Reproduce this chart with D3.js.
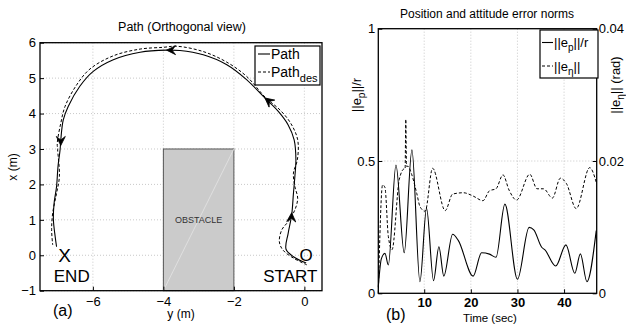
<!DOCTYPE html>
<html>
<head>
<meta charset="utf-8">
<script src="https://cdn.jsdelivr.net/npm/d3@7"></script>
<style>
  body { margin: 0; background: #fff; }
  svg { display: block; font-family: "Liberation Sans", Arial, sans-serif; }
</style>
</head>
<body>
<div id="chart"></div>
<script>
// ---- data: path plot (y, x in metres) ----
const pathActual = [
  [0.05,-0.22],[-0.31,-0.04],[-0.52,0.17],[-0.46,0.62],[-0.36,1.14],[-0.31,1.75],[-0.27,2.22],
  [-0.24,2.69],[-0.29,3.26],[-0.46,3.68],[-0.74,4.06],[-1.12,4.44],[-1.64,4.96],[-2.2,5.38],
  [-2.87,5.66],[-3.53,5.78],[-3.91,5.79],[-4.66,5.73],[-5.42,5.52],[-5.99,5.19],[-6.37,4.77],
  [-6.7,4.2],[-6.84,3.82],[-6.91,3.26],[-6.93,2.98],[-6.99,2.5],[-7.03,1.94],[-7.1,1.47],
  [-7.12,1.0],[-7.07,0.53],[-7.03,0.24]
];
const pathDesired = [
  [0.07,-0.27],[-0.31,-0.08],[-0.61,0.15],[-0.71,0.38],[-0.64,0.72],[-0.46,0.95],[-0.27,1.28],
  [-0.19,1.61],[-0.27,1.94],[-0.31,2.32],[-0.2,2.69],[-0.19,3.26],[-0.39,3.73],[-0.69,4.1],
  [-1.1,4.45],[-1.64,5.05],[-2.2,5.45],[-2.87,5.75],[-3.62,5.9],[-4.0,5.87],[-4.66,5.82],
  [-5.42,5.63],[-6.08,5.26],[-6.46,4.81],[-6.79,4.2],[-6.91,3.73],[-7.01,3.17],[-7.0,2.98],
  [-6.95,2.22],[-7.03,1.75],[-7.14,1.19],[-7.17,0.72],[-7.14,0.29]
];
// arrow heads: position and direction (dy, dx)
const arrows = [
  [-0.36, 1.2, 0.05, 1], [-1.12, 4.44, -1, 0.8], [-3.91, 5.79, -1, 0], [-6.91, 3.1, 0, -1]
];
const obstacle = { y0: -4, y1: -2, x0: -1, x1: 3 };
const pathYTicks = [-6, -4, -2, 0];
const pathXTicks = [-1, 0, 1, 2, 3, 4, 5, 6];

// ---- data: error norms ----
const epNorm = [
  [0.15,0.025],[0.8,0.13],[1.58,0.151],[2.3,0.107],[3.94,0.485],[5.71,0.153],[7.36,0.542],
  [9.08,0.044],[10.5,0.321],[12.0,0.048],[13.15,0.176],[14.2,0.065],[16.1,0.223],[17.3,0.2],
  [20.5,0.065],[22.3,0.153],[24,0.148],[25.4,0.136],[27.3,0.337],[30.0,0.053],[32.5,0.249],
  [33.5,0.24],[35.2,0.174],[35.9,0.164],[38.2,0.103],[40.4,0.183],[42.3,0.076],[43.5,0.149],
  [44.9,0.044],[46.9,0.237]
];
const etaNorm = [
  [0.15,0],[1.07,0.0164],[1.58,0.016],[2.3,0.0086],[3.1,0.0066],[4.65,0.0172],[5.7,0.0188],
  [5.9,0.0188],[6.05,0.0263],[6.2,0.0192],[6.5,0.0192],[7.3,0.018],[8.4,0.0151],[9.1,0.0131],
  [10.2,0.0124],[11.8,0.0189],[14.5,0.0125],[16.1,0.015],[18.4,0.0152],[20.5,0.0147],
  [22.6,0.014],[24.0,0.0155],[25.4,0.0158],[26.9,0.0179],[28.2,0.0156],[29.8,0.0141],
  [32.65,0.018],[34.2,0.0158],[35.6,0.0158],[37.5,0.0144],[39.2,0.0174],[40.5,0.0166],
  [42.6,0.0128],[45.5,0.019],[46.9,0.0168]
];
const timeTicks = [10, 20, 30, 40];
const epTicks = [0, 0.5, 1];
const etaTicks = [0, 0.02, 0.04];

const svg = d3.select("#chart").append("svg")
  .attr("width", 626).attr("height", 331);

const fmt = d => String(d).replace("-", "\u2212");

function grid(g, xs, ys, xsc, ysc, x0, x1, y0, y1) {
  g.selectAll(".gx").data(xs).enter().append("line")
    .attr("x1", d => xsc(d)).attr("x2", d => xsc(d)).attr("y1", y0).attr("y2", y1)
    .attr("stroke", "#bbb").attr("stroke-width", 0.8).attr("stroke-dasharray", "1,2");
  g.selectAll(".gy").data(ys).enter().append("line")
    .attr("y1", d => ysc(d)).attr("y2", d => ysc(d)).attr("x1", x0).attr("x2", x1)
    .attr("stroke", "#bbb").attr("stroke-width", 0.8).attr("stroke-dasharray", "1,2");
}

// ================= left plot =================
const L = { left: 40, right: 322, top: 42.7, bottom: 290.7 };
const ly = d3.scaleLinear().domain([-7.5, 0.5]).range([L.left, L.right]);
const lx = d3.scaleLinear().domain([-1, 6]).range([L.bottom, L.top]);
const gl = svg.append("g");

grid(gl, pathYTicks, pathXTicks, ly, lx, L.left, L.right, L.top, L.bottom);

// obstacle
gl.append("rect")
  .attr("x", ly(obstacle.y0)).attr("y", lx(obstacle.x1))
  .attr("width", ly(obstacle.y1) - ly(obstacle.y0))
  .attr("height", lx(obstacle.x0) - lx(obstacle.x1))
  .attr("fill", "#cbcbcb").attr("stroke", "#555").attr("stroke-width", 1);
gl.append("line")
  .attr("x1", ly(obstacle.y0)).attr("y1", lx(obstacle.x0))
  .attr("x2", ly(obstacle.y1)).attr("y2", lx(obstacle.x1))
  .attr("stroke", "#e4e4e4").attr("stroke-width", 0.8);
gl.append("text").attr("x", ly(-3)).attr("y", lx(1) + 3.5)
  .attr("text-anchor", "middle").attr("font-size", 9).attr("fill", "#333").text("OBSTACLE");

const pline = d3.line().x(d => ly(d[0])).y(d => lx(d[1])).curve(d3.curveCatmullRom);
gl.append("path").attr("d", pline(pathDesired)).attr("fill", "none")
  .attr("stroke", "#000").attr("stroke-width", 1).attr("stroke-dasharray", "3,2");
gl.append("path").attr("d", pline(pathActual)).attr("fill", "none")
  .attr("stroke", "#000").attr("stroke-width", 1.1);

// arrow heads
arrows.forEach(a => {
  const px = ly(a[0]), py = lx(a[1]);
  const ang = Math.atan2(lx(a[1] + a[3]) - py, ly(a[0] + a[2]) - px) * 180 / Math.PI;
  gl.append("path").attr("d", "M0,0 L-9,-4.5 L-5.5,0 L-9,4.5 Z")
    .attr("transform", `translate(${px},${py}) rotate(${ang})`)
    .attr("fill", "#000").attr("stroke", "#000").attr("stroke-width", 0.8);
});

// markers and labels
gl.append("text").attr("x", ly(-6.8)).attr("y", lx(0) + 7).attr("text-anchor", "middle")
  .attr("font-size", 19).text("X");
gl.append("text").attr("x", ly(0.05)).attr("y", lx(0) + 6).attr("text-anchor", "middle")
  .attr("font-size", 17).text("O");
gl.append("text").attr("x", ly(-6.6)).attr("y", 282).attr("text-anchor", "middle")
  .attr("font-size", 17).text("END");
gl.append("text").attr("x", ly(-0.4)).attr("y", 282).attr("text-anchor", "middle")
  .attr("font-size", 17).text("START");

// box and ticks
gl.append("rect").attr("x", L.left).attr("y", L.top).attr("width", L.right - L.left)
  .attr("height", L.bottom - L.top).attr("fill", "none").attr("stroke", "#000").attr("stroke-width", 1.3);
gl.append("g").attr("transform", `translate(0,${L.bottom})`)
  .call(d3.axisBottom(ly).tickValues(pathYTicks).tickSize(-4).tickFormat(fmt))
  .call(g => g.select(".domain").remove())
  .call(g => g.selectAll("text").attr("font-size", 13).attr("dy", "0.95em").attr("fill", "#000")
    .attr("font-family", "Liberation Sans, Arial, sans-serif"));
gl.append("g").attr("transform", `translate(${L.left},0)`)
  .call(d3.axisLeft(lx).tickValues(pathXTicks).tickSize(-4).tickFormat(fmt))
  .call(g => g.select(".domain").remove())
  .call(g => g.selectAll("text").attr("font-size", 13).attr("x", -4).attr("fill", "#000")
    .attr("font-family", "Liberation Sans, Arial, sans-serif"));

gl.append("text").attr("x", 182).attr("y", 31).attr("text-anchor", "middle")
  .attr("font-size", 12.5).text("Path (Orthogonal view)");
gl.append("text").attr("x", 181).attr("y", 318).attr("text-anchor", "middle")
  .attr("font-size", 12).text("y (m)");
gl.append("text").attr("transform", "translate(17,167) rotate(-90)").attr("text-anchor", "middle")
  .attr("font-size", 12).text("x (m)");
gl.append("text").attr("x", 53).attr("y", 316).attr("font-size", 16).text("(a)");

// legend
const lg = gl.append("g");
lg.append("rect").attr("x", 255).attr("y", 46).attr("width", 65).attr("height", 39)
  .attr("fill", "#fff").attr("stroke", "#000").attr("stroke-width", 1.2);
lg.append("line").attr("x1", 258).attr("x2", 270).attr("y1", 54).attr("y2", 54)
  .attr("stroke", "#000").attr("stroke-width", 1.1);
lg.append("line").attr("x1", 258).attr("x2", 270).attr("y1", 72).attr("y2", 72)
  .attr("stroke", "#000").attr("stroke-width", 1).attr("stroke-dasharray", "3,2");
lg.append("text").attr("x", 271).attr("y", 59).attr("font-size", 14).text("Path");
const t2 = lg.append("text").attr("x", 271).attr("y", 77).attr("font-size", 14);
t2.append("tspan").text("Path");
t2.append("tspan").attr("dy", 5).attr("font-size", 11).text("des");

// ================= right plot =================
const R = { left: 378.3, right: 596.7, top: 28.7, bottom: 293.3 };
const rx = d3.scaleLinear().domain([0.15, 47]).range([R.left, R.right]);
const ry = d3.scaleLinear().domain([0, 1]).range([R.bottom, R.top]);
const ry2 = d3.scaleLinear().domain([0, 0.04]).range([R.bottom, R.top]);
const gr = svg.append("g");

grid(gr, timeTicks, [0.5], rx, ry, R.left, R.right, R.top, R.bottom);

gr.append("path")
  .attr("d", d3.line().x(d => rx(d[0])).y(d => ry2(d[1])).curve(d3.curveMonotoneX)(etaNorm))
  .attr("fill", "none").attr("stroke", "#000").attr("stroke-width", 1).attr("stroke-dasharray", "3,2");
gr.append("path")
  .attr("d", d3.line().x(d => rx(d[0])).y(d => ry(d[1])).curve(d3.curveMonotoneX)(epNorm))
  .attr("fill", "none").attr("stroke", "#000").attr("stroke-width", 1.1);

gr.append("rect").attr("x", R.left).attr("y", R.top).attr("width", R.right - R.left)
  .attr("height", R.bottom - R.top).attr("fill", "none").attr("stroke", "#000").attr("stroke-width", 1.3);
gr.append("g").attr("transform", `translate(0,${R.bottom})`)
  .call(d3.axisBottom(rx).tickValues(timeTicks).tickSize(-4))
  .call(g => g.select(".domain").remove())
  .call(g => g.selectAll("text").attr("font-size", 13).attr("font-weight", "bold").attr("dy", "0.85em")
    .attr("fill", "#000").attr("font-family", "Liberation Sans, Arial, sans-serif"));
gr.append("g").attr("transform", `translate(${R.left},0)`)
  .call(d3.axisLeft(ry).tickValues(epTicks).tickSize(-4).tickFormat(d => String(d)))
  .call(g => g.select(".domain").remove())
  .call(g => g.selectAll("text").attr("font-size", 13).attr("x", -3).attr("fill", "#000")
    .attr("font-family", "Liberation Sans, Arial, sans-serif"));
gr.append("g").attr("transform", `translate(${R.right},0)`)
  .call(d3.axisRight(ry2).tickValues(etaTicks).tickSize(-4).tickFormat(d => String(d)))
  .call(g => g.select(".domain").remove())
  .call(g => g.selectAll("text").attr("font-size", 13).attr("x", 2).attr("fill", "#000")
    .attr("font-family", "Liberation Sans, Arial, sans-serif"));

gr.append("text").attr("x", 487).attr("y", 18).attr("text-anchor", "middle")
  .attr("font-size", 12).text("Position and attitude error norms");
gr.append("text").attr("x", 490).attr("y", 322).attr("text-anchor", "middle")
  .attr("font-size", 11.5).text("Time (sec)");
gr.append("text").attr("x", 386).attr("y", 320).attr("font-size", 16).text("(b)");

const yl = gr.append("text").attr("transform", "translate(361,95) rotate(-90)")
  .attr("text-anchor", "middle").attr("font-size", 13);
yl.append("tspan").text("||e");
yl.append("tspan").attr("dy", 4).attr("font-size", 10).text("p");
yl.append("tspan").attr("dy", -4).text("||/r");
const yr = gr.append("text").attr("transform", "translate(620,85) rotate(-90)")
  .attr("text-anchor", "middle").attr("font-size", 13);
yr.append("tspan").text("||e");
yr.append("tspan").attr("dy", 4).attr("font-size", 10).text("\u03b7");
yr.append("tspan").attr("dy", -4).text("|| (rad)");

// legend
const rg = gr.append("g");
rg.append("rect").attr("x", 540).attr("y", 30).attr("width", 58).attr("height", 48)
  .attr("fill", "#fff").attr("stroke", "#000").attr("stroke-width", 1.2);
rg.append("line").attr("x1", 542).attr("x2", 553).attr("y1", 42.5).attr("y2", 42.5)
  .attr("stroke", "#000").attr("stroke-width", 1.1);
rg.append("line").attr("x1", 542).attr("x2", 553).attr("y1", 66).attr("y2", 66)
  .attr("stroke", "#000").attr("stroke-width", 1).attr("stroke-dasharray", "3,2");
const r1 = rg.append("text").attr("x", 554).attr("y", 47).attr("font-size", 13);
r1.append("tspan").text("||e");
r1.append("tspan").attr("dy", 4).attr("font-size", 10).text("p");
r1.append("tspan").attr("dy", -4).text("||/r");
const r2 = rg.append("text").attr("x", 554).attr("y", 71).attr("font-size", 13);
r2.append("tspan").text("||e");
r2.append("tspan").attr("dy", 4).attr("font-size", 10).text("\u03b7");
r2.append("tspan").attr("dy", -4).text("||");
</script>
</body>
</html>
